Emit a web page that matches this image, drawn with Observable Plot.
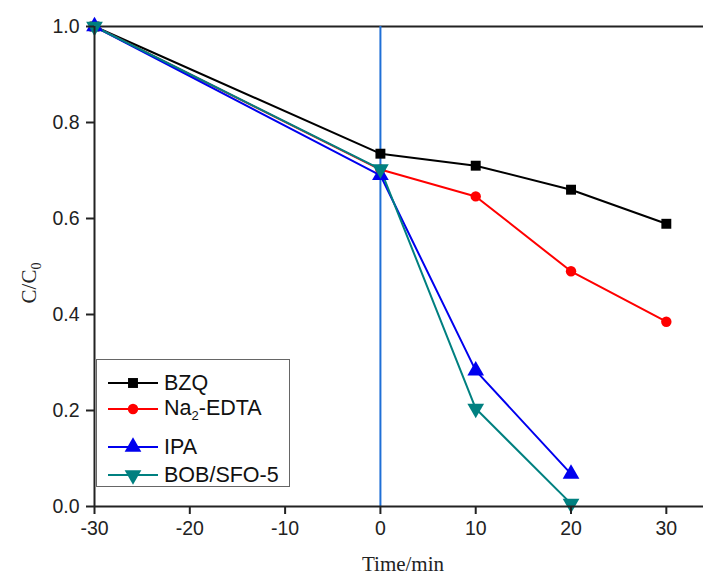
<!DOCTYPE html>
<html>
<head>
<meta charset="utf-8">
<script src="https://cdn.jsdelivr.net/npm/d3@7"></script>
<script src="https://cdn.jsdelivr.net/npm/@observablehq/plot@0.6"></script>
<style>
  html, body { margin: 0; padding: 0; background: #fff; }
  #wrap { position: relative; width: 703px; height: 578px; overflow: hidden; }
  #legend { position: absolute; left: 96px; top: 359px; width: 192px; height: 126px;
    border: 1px solid #666; background: #fff; font-family: "Liberation Sans", Arial, sans-serif; font-size: 21.5px; color: #111; }
  .row { position: absolute; left: 0; height: 26px; display: flex; align-items: center; }
  .row svg { margin-left: 11px; margin-right: 6px; }
  sub { font-size: 13px; vertical-align: -5px; }
</style>
</head>
<body>
<div id="wrap"></div>
<script>
// ---- data ----
const time = [-30, 0, 10, 20, 30];
const timeShort = [-30, 0, 10, 20];
const bzq = [1.0, 0.735, 0.710, 0.660, 0.589];
const edta = [1.0, 0.702, 0.646, 0.490, 0.385];
const ipa = [1.0, 0.690, 0.283, 0.068];
const bob = [1.0, 0.703, 0.204, 0.006];
const seriesNames = ["BZQ", "Na2-EDTA", "IPA", "BOB/SFO-5"];
const seriesColors = ["#000000", "#ff0000", "#0000ee", "#008080"];
const xTicks = [-30, -20, -10, 0, 10, 20, 30];
const yTicks = [0, 0.2, 0.4, 0.6, 0.8, 1.0];

const series = [
  {name: seriesNames[0], color: seriesColors[0], symbol: "square", rotate: 0, r: 5.6, xs: time, ys: bzq},
  {name: seriesNames[1], color: seriesColors[1], symbol: "circle", rotate: 0, r: 5.2, xs: time, ys: edta},
  {name: seriesNames[2], color: seriesColors[2], symbol: "triangle", rotate: 0, r: 6.2, xs: timeShort, ys: ipa},
  {name: seriesNames[3], color: seriesColors[3], symbol: "triangle", rotate: 180, r: 6.2, xs: timeShort, ys: bob}
];
const rows = series.flatMap(s => s.xs.map((x, i) => ({series: s.name, x, y: s.ys[i]})));

const marks = [
  Plot.ruleY([1], {stroke: "#222", strokeWidth: 2}),
  Plot.ruleX([0], {stroke: "#1f6fd6", strokeWidth: 2}),
];
for (const s of series) {
  const d = rows.filter(r => r.series === s.name);
  marks.push(Plot.line(d, {x: "x", y: "y", stroke: s.color, strokeWidth: 2}));
}
for (const s of series) {
  const d = rows.filter(r => r.series === s.name);
  marks.push(Plot.dot(d, {x: "x", y: "y", fill: s.color, stroke: "none", symbol: s.symbol, r: s.r, rotate: s.rotate}));
}
marks.push(
  Plot.axisX({ticks: xTicks, tickSize: 8, tickPadding: 7, label: null, tickFormat: d => String(d),
    fontSize: 19.5, fill: "#222", stroke: "#222", strokeWidth: 2}),
  Plot.axisY({ticks: yTicks, tickSize: 8, tickPadding: 7, label: null, tickFormat: d3.format(".1f"),
    fontSize: 19.5, fill: "#222", stroke: "#222", strokeWidth: 2}),
  Plot.ruleY([0], {stroke: "#222", strokeWidth: 2}),
  Plot.ruleX([-30], {stroke: "#222", strokeWidth: 2})
);

const chart = Plot.plot({
  width: 703,
  height: 578,
  marginLeft: 94,
  marginRight: 0,
  marginTop: 26,
  marginBottom: 72,
  style: {fontFamily: "'Liberation Sans', Arial, sans-serif", background: "#fff", overflow: "visible"},
  x: {domain: [-30, 33.9]},
  y: {domain: [0, 1]},
  marks
});

const svg = d3.select(chart);

// axis titles
const yl = svg.append("text")
  .attr("transform", "translate(36,283) rotate(-90)")
  .attr("text-anchor", "middle")
  .attr("font-family", "'Liberation Serif', 'Times New Roman', serif")
  .attr("font-size", 21)
  .attr("fill", "#222");
yl.append("tspan").text("C/C");
yl.append("tspan").attr("font-size", 14).attr("dy", 5).text("0");

svg.append("text")
  .attr("x", 403).attr("y", 571)
  .attr("text-anchor", "middle")
  .attr("font-family", "'Liberation Serif', 'Times New Roman', serif")
  .attr("font-size", 21)
  .attr("fill", "#222")
  .text("Time/min");

const wrap = document.getElementById("wrap");
wrap.appendChild(chart);

// legend
const legend = document.createElement("div");
legend.id = "legend";
const rowTops = [10, 36, 74, 102];
series.forEach((s, i) => {
  const row = document.createElement("div");
  row.className = "row";
  row.style.top = rowTops[i] + "px";
  const sym = s.symbol === "square" ? d3.symbolSquare : s.symbol === "circle" ? d3.symbolCircle : d3.symbolTriangle;
  const path = d3.symbol(sym, Math.PI * s.r * s.r)();
  row.innerHTML = `<svg width="50" height="20"><line x1="0" x2="50" y1="10" y2="10" stroke="${s.color}" stroke-width="2"/>` +
    `<path d="${path}" fill="${s.color}" transform="translate(25,10) rotate(${s.rotate})"/></svg>`;
  const label = document.createElement("span");
  if (s.name === "Na2-EDTA") label.innerHTML = "Na<sub>2</sub>-EDTA";
  else label.textContent = s.name;
  row.appendChild(label);
  legend.appendChild(row);
});
wrap.appendChild(legend);
</script>
</body>
</html>
